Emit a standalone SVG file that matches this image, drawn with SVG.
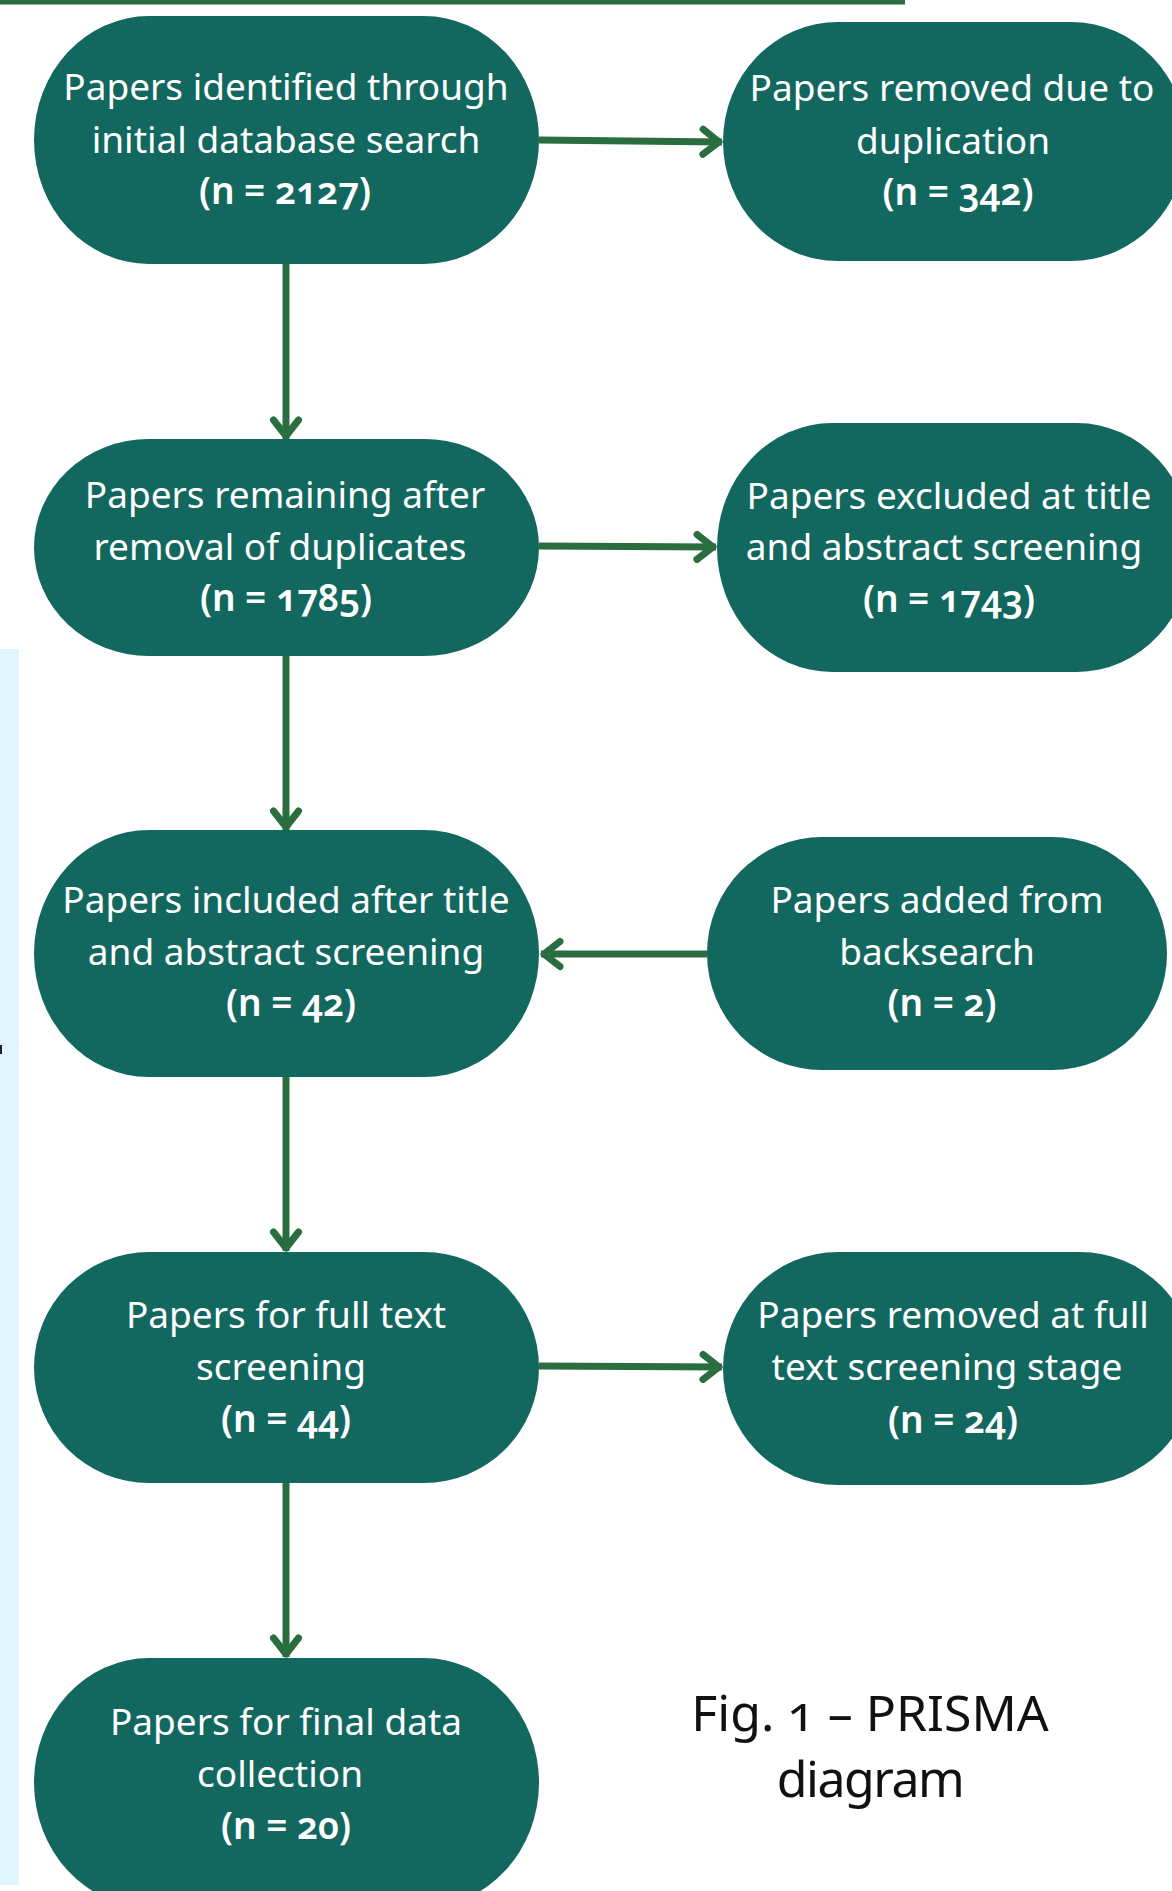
<svg xmlns="http://www.w3.org/2000/svg" width="1172" height="1891" viewBox="0 0 1172 1891">
<style>
.node{fill:#12675E}
.t{font-family:"Noto Sans","Open Sans","DejaVu Sans",sans-serif;font-size:37px;fill:#ffffff;text-anchor:middle;font-variant-numeric:oldstyle-nums}
.b{font-weight:600}
.conn{stroke:#2A6E40;stroke-width:7;fill:none;stroke-linecap:butt}
.cap{font-family:"Noto Sans","Open Sans","DejaVu Sans",sans-serif;font-size:50px;fill:#111111;text-anchor:middle;font-variant-numeric:oldstyle-nums}
</style>
<defs>
<marker id="ah" markerUnits="userSpaceOnUse" viewBox="-30 -20 40 40" markerWidth="40" markerHeight="40" refX="0" refY="0" orient="auto" overflow="visible">
<path d="M-19,-12.5 L-3,0 L-19,12.5" fill="none" stroke="#2A6E40" stroke-width="7" stroke-linecap="round" stroke-linejoin="round"/>
</marker>
</defs>
<rect x="0" y="0" width="1172" height="1891" fill="#ffffff"/>
<rect x="0" y="0" width="905" height="4.5" fill="#2A6E40"/>
<rect x="0" y="649" width="19" height="1236" fill="#E1F5FE"/>
<rect x="0" y="1045" width="2" height="9" fill="#222222"/>

<g id="connectors">
<path class="conn" d="M539,140 L722,142" marker-end="url(#ah)"/>
<path class="conn" d="M539,546 L716,547" marker-end="url(#ah)"/>
<path class="conn" d="M707,954 L541,954" marker-end="url(#ah)"/>
<path class="conn" d="M539,1366 L722,1367" marker-end="url(#ah)"/>
<path class="conn" d="M286,264 L286,439" marker-end="url(#ah)"/>
<path class="conn" d="M286,656 L286,830" marker-end="url(#ah)"/>
<path class="conn" d="M286,1077 L286,1251" marker-end="url(#ah)"/>
<path class="conn" d="M286,1483 L286,1657" marker-end="url(#ah)"/>
</g>

<g id="n1">
<rect class="node" x="34" y="16" width="505" height="248" rx="115" ry="124"/>
<text class="t" x="286" y="100">Papers identified through</text>
<text class="t" x="286" y="153">initial database search</text>
<text class="t b" x="285" y="204">(n = 2127)</text>
</g>
<g id="n2">
<rect class="node" x="723" y="22" width="463" height="239" rx="115" ry="119.5"/>
<text class="t" x="952" y="101">Papers removed due to</text>
<text class="t" x="953" y="154">duplication</text>
<text class="t b" x="958" y="205">(n = 342)</text>
</g>
<g id="n3">
<rect class="node" x="34" y="439" width="505" height="217" rx="115" ry="108.5"/>
<text class="t" x="285" y="508">Papers remaining after</text>
<text class="t" x="280" y="560">removal of duplicates</text>
<text class="t b" x="286" y="611">(n = 1785)</text>
</g>
<g id="n4">
<rect class="node" x="717" y="423" width="475" height="249" rx="115" ry="124.5"/>
<text class="t" x="949" y="509">Papers excluded at title</text>
<text class="t" x="944" y="560">and abstract screening</text>
<text class="t b" x="949" y="612">(n = 1743)</text>
</g>
<g id="n5">
<rect class="node" x="34" y="830" width="505" height="247" rx="115" ry="123.5"/>
<text class="t" x="286" y="913">Papers included after title</text>
<text class="t" x="286" y="965">and abstract screening</text>
<text class="t b" x="291" y="1016">(n = 42)</text>
</g>
<g id="n6">
<rect class="node" x="707" y="837" width="460" height="233" rx="115" ry="116.5"/>
<text class="t" x="937" y="913">Papers added from</text>
<text class="t" x="937" y="965">backsearch</text>
<text class="t b" x="942" y="1016">(n = 2)</text>
</g>
<g id="n7">
<rect class="node" x="34" y="1252" width="505" height="231" rx="115" ry="115.5"/>
<text class="t" x="286" y="1328">Papers for full text</text>
<text class="t" x="281" y="1380">screening</text>
<text class="t b" x="286" y="1432">(n = 44)</text>
</g>
<g id="n8">
<rect class="node" x="723" y="1252" width="472" height="233" rx="115" ry="116.5"/>
<text class="t" x="953" y="1328">Papers removed at full</text>
<text class="t" x="947" y="1380">text screening stage</text>
<text class="t b" x="953" y="1433">(n = 24)</text>
</g>
<g id="n9">
<rect class="node" x="34" y="1658" width="505" height="249" rx="115" ry="124.5"/>
<text class="t" x="286" y="1735">Papers for final data</text>
<text class="t" x="280" y="1787">collection</text>
<text class="t b" x="286" y="1839">(n = 20)</text>
</g>
<g id="caption">
<text class="cap" x="870" y="1731">Fig. 1 – PRISMA</text>
<text class="cap" x="870" y="1797" letter-spacing="-1.5">diagram</text>
</g>
</svg>
